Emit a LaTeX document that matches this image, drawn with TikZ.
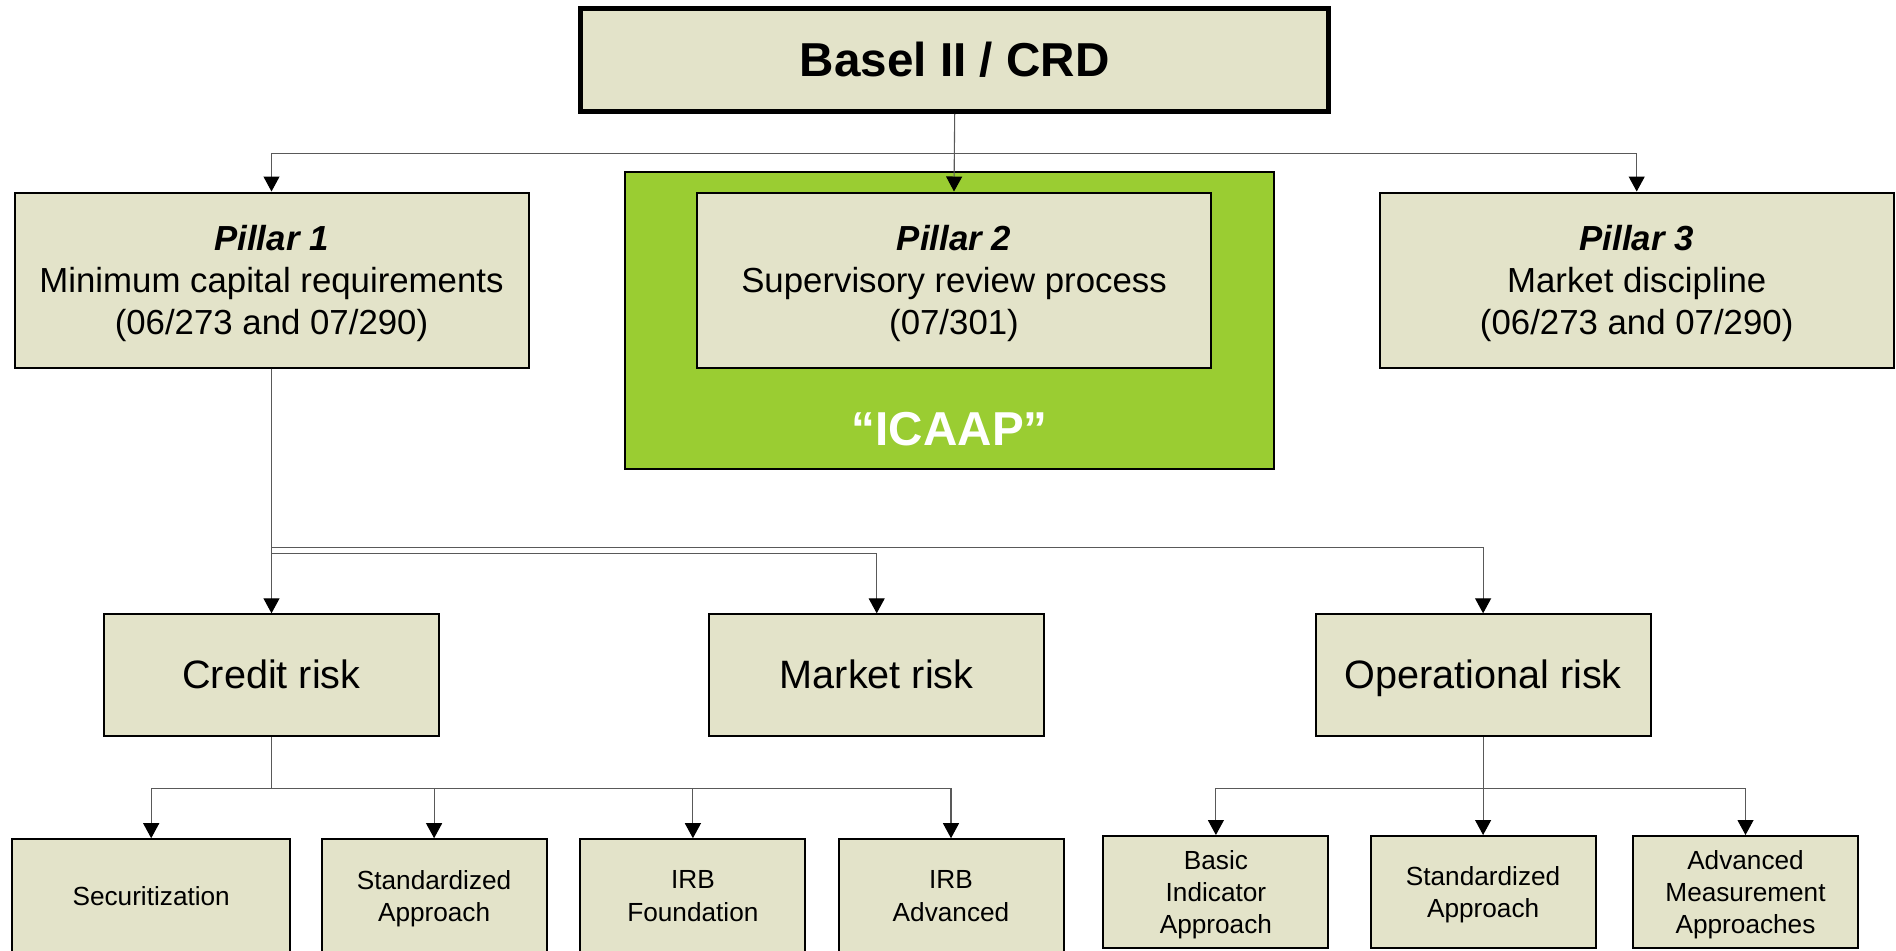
\documentclass[tikz,border=0pt]{standalone}
\usepackage{fontspec}
\setmainfont{Liberation Sans}
\usetikzlibrary{positioning, arrows.meta}
\definecolor{boxfill}{RGB}{227,227,201}
\definecolor{icaapgreen}{RGB}{154,205,50}

\begin{document}
\begin{tikzpicture}[
        x=0.5pt, y=-0.5pt,
        box/.style={draw, fill=boxfill, line width=1pt, align=center, inner sep=0pt},
        pillar/.style={box, minimum width=257pt, minimum height=87.5pt, text depth=-3.5pt, font=\fontsize{17.4}{21}\selectfont},
        risk/.style={box, minimum width=167.5pt, minimum height=61pt, text depth=1.5pt, font=\fontsize{19.8}{24}\selectfont},
        method/.style={box, minimum width=112.5pt, minimum height=57pt, text depth=0.35pt, font=\fontsize{13.1}{16.2}\selectfont},
        link/.style={draw=black!65, line width=0.55pt, -{Triangle[width=8pt,length=7.5pt,color=black]}},
    ]
    \useasboundingbox (0,0) rectangle (1896,950);

    % top
    \node[box, line width=2.5pt, minimum width=374pt, minimum height=51.4pt,
        font=\bfseries\fontsize{23.8}{28}\selectfont] (basel) at (954.7,59.9) {Basel II / CRD};

    % pillars
    \node[draw, fill=icaapgreen, line width=1pt, minimum width=324.5pt, minimum height=148.75pt] (icaapbox) at (949.8,320.4) {};
    \node[text=white, font=\bfseries\fontsize{23.8}{28}\selectfont] (icaap) at (949.8,429.3) {“ICAAP”};
    \node[pillar] (pillarone) at (271.5,280) {\textbf{\textit{Pillar 1}}\\Minimum capital requirements\\(06/273 and 07/290)};
    \node[pillar] (pillartwo) at (954,280) {\textbf{\textit{Pillar 2}}\\Supervisory review process\\(07/301)};
    \node[pillar] (pillarthree) at (1636.7,280) {\textbf{\textit{Pillar 3}}\\Market discipline\\(06/273 and 07/290)};

    % risks
    \node[risk] (credit) at (271.5,675.3) {Credit risk};
    \node[risk] (market) at (876.7,675.3) {Market risk};
    \node[risk] (oprisk) at (1483.1,675.3) {Operational risk};

    % approaches
    \node[method, minimum width=139pt] (secur) at (151.2,896.2) {Securitization};
    \node[method] (stdcr) at (434.1,896.2) {Standardized\\Approach};
    \node[method] (irbf) at (692.9,896.2) {IRB\\Foundation};
    \node[method] (irba) at (951,896.2) {IRB\\Advanced};
    \node[method, minimum height=56pt, text depth=-3pt] (basic) at (1215.9,892) {Basic\\Indicator\\Approach};
    \node[method, minimum height=56pt, text depth=-3pt] (stdop) at (1483.1,892) {Standardized\\Approach};
    \node[method, minimum height=56pt, text depth=-3pt] (ama) at (1745.5,892) {Advanced\\Measurement\\Approaches};

    % connectors
    \draw[link] (basel.south) -- (pillartwo.north);
    \draw[link] (basel.south) -- ++(0,40) -| (pillarone.north);
    \draw[link] (basel.south) -- ++(0,40) -| (pillarthree.north);

    \draw[link] (pillarone.south) -- (credit.north);
    \draw[link] (pillarone.south) -- ++(0,185) -| (market.north);
    \draw[link] (pillarone.south) -- ++(0,179) -| (oprisk.north);

    \foreach \m in {secur, stdcr, irbf, irba}
        \draw[link] (credit.south) -- ++(0,51) -| (\m.north);
    \foreach \m in {basic, stdop, ama}
        \draw[link] (oprisk.south) -- ++(0,51) -| (\m.north);
\end{tikzpicture}
\end{document}
